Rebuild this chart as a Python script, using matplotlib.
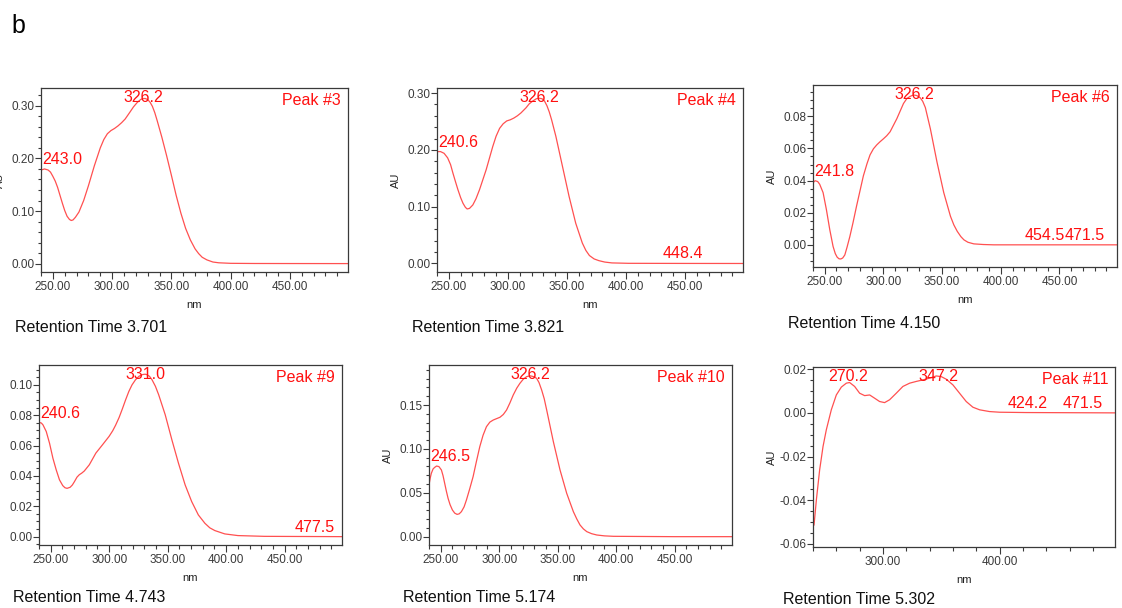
import numpy as np
import matplotlib
matplotlib.use("Agg")
import matplotlib.pyplot as plt
from matplotlib.ticker import MultipleLocator, FormatStrFormatter
from matplotlib.transforms import IdentityTransform

plt.rcParams['font.family'] = ['Liberation Sans', 'DejaVu Sans']

W, H = 1122, 608

# UV spectra (nm, AU)
p3_nm = [240, 243, 246, 248, 250, 252, 254, 256, 258, 260, 262, 264, 265.5, 267, 269, 272,
         276, 280, 285, 290, 293, 296, 299, 302, 305, 308, 311, 315, 318, 321, 324, 326, 328,
         330, 332, 334, 336, 338, 342, 346, 350, 354, 358, 362, 366, 370, 373, 376, 380, 385,
         390, 400, 420, 450, 499]
p3_au = [0.178, 0.180, 0.178, 0.174, 0.166, 0.157, 0.145, 0.130, 0.115, 0.101, 0.090, 0.084,
         0.082, 0.083, 0.088, 0.098, 0.120, 0.148, 0.186, 0.220, 0.236, 0.247, 0.253, 0.257,
         0.262, 0.268, 0.275, 0.288, 0.298, 0.306, 0.312, 0.314, 0.314, 0.312, 0.307, 0.299,
         0.287, 0.272, 0.240, 0.205, 0.168, 0.130, 0.096, 0.067, 0.045, 0.028, 0.019, 0.012,
         0.007, 0.003, 0.0015, 0.0005, 0.0002, 0.0001, 0.0]

p4_nm = [240, 243, 246, 249, 251.5, 253.5, 255.5, 257.7, 260, 262, 264, 265.5, 267.5, 270.3,
         273, 276, 281.6, 287.2, 290, 293, 296, 299, 302, 305, 308, 311, 315.3, 318, 321, 324,
         326.5, 329, 331, 333, 335, 337, 340.6, 346.2, 351.8, 357.4, 363, 366, 369, 373, 377,
         382, 388, 402, 450, 499]
p4_au = [0.197, 0.197, 0.194, 0.186, 0.174, 0.159, 0.145, 0.130, 0.116, 0.106, 0.099, 0.096,
         0.097, 0.103, 0.114, 0.130, 0.165, 0.206, 0.224, 0.238, 0.246, 0.251, 0.253, 0.256,
         0.260, 0.265, 0.274, 0.281, 0.286, 0.290, 0.291, 0.290, 0.286, 0.278, 0.267, 0.253,
         0.224, 0.171, 0.118, 0.071, 0.036, 0.023, 0.014, 0.008, 0.005, 0.0025, 0.001, 0.0003,
         0.0001, 0.0]

p6_nm = [240, 241.8, 244, 245.7, 248.6, 251.4, 254.3, 257.1, 259, 260.6, 262.2, 263.7, 265.3,
         267.1, 269, 271.4, 274, 277.1, 282.9, 286, 288.6, 291.5, 294.3, 297, 300, 302.8,
         305.7, 311.4, 317.1, 320, 322.9, 325, 326.5, 328.5, 331.4, 333.5, 335.7, 340, 345.7,
         351.4, 357.1, 360, 362.9, 366, 368.6, 372, 377, 385, 394, 450, 499]
p6_au = [0.0387, 0.0399, 0.0394, 0.0377, 0.0325, 0.022, 0.0094, -0.001, -0.0055, -0.0077,
         -0.0087, -0.0088, -0.0082, -0.0063, -0.0015, 0.0052, 0.0135, 0.0241, 0.0429, 0.0505,
         0.0560, 0.0598, 0.0622, 0.0641, 0.066, 0.0679, 0.0704, 0.0785, 0.088, 0.0911, 0.0925,
         0.0931, 0.0932, 0.0929, 0.0915, 0.0893, 0.0855, 0.0722, 0.0513, 0.0325, 0.0178,
         0.0124, 0.0084, 0.0051, 0.0031, 0.0016, 0.0006, 0.0002, 0.0, 0.0, 0.0]

p9_nm = [240, 242, 243.4, 246.2, 249, 251.9, 254.7, 257.5, 260.3, 262.2, 264, 266.6, 268.5,
         270.2, 272.5, 274.5, 276.5, 278.7, 283, 288.6, 294.2, 299.9, 303, 305.5, 308.5,
         311.2, 314, 316.8, 319.5, 322.5, 325.5, 328.1, 330, 331, 332.4, 334.5, 336.6, 339.5,
         342.3, 347.9, 353.6, 359.2, 364.9, 370.5, 376.2, 381.8, 386, 390.3, 398.8, 410,
         432.7, 499]
p9_au = [0.0752, 0.0748, 0.0736, 0.0692, 0.0615, 0.0516, 0.044, 0.0374, 0.0336, 0.0322,
         0.0318, 0.0325, 0.0340, 0.0361, 0.0392, 0.0408, 0.0418, 0.0432, 0.0473, 0.055,
         0.0604, 0.066, 0.0697, 0.0734, 0.0785, 0.0840, 0.0900, 0.0956, 0.0999, 0.1033,
         0.1056, 0.1066, 0.1069, 0.1069, 0.1066, 0.1055, 0.1033, 0.0990, 0.0934, 0.0802,
         0.0637, 0.0484, 0.0341, 0.0231, 0.0143, 0.0088, 0.0058, 0.004, 0.0018, 0.0007,
         0.0002, 0.0]

p10_nm = [240, 241, 242, 243.5, 244.9, 246.5, 248.5, 250.6, 252, 253.4, 254.8, 256.3, 258,
          260, 262, 264, 265.8, 267.7, 270, 272, 274.8, 277.7, 280.5, 283.4, 286.2, 289.1,
          292, 294.9, 297.8, 300.6, 303.5, 306.3, 309.2, 312, 315, 317.7, 320.5, 323.4,
          326.5, 329.5, 332, 334, 336.3, 338.5, 340.6, 346.3, 352, 357.7, 363.4, 366.3,
          369.1, 372, 374.9, 379, 383.4, 390, 397.7, 450, 499]
p10_au = [0.0589, 0.0665, 0.0722, 0.0772, 0.079, 0.0805, 0.0798, 0.076, 0.0695, 0.0608,
          0.0521, 0.0437, 0.0365, 0.0304, 0.0268, 0.0254, 0.0260, 0.0285, 0.0340, 0.0418,
          0.0545, 0.0684, 0.0855, 0.1025, 0.1155, 0.1253, 0.1305, 0.1329, 0.1345, 0.136,
          0.1392, 0.1443, 0.1525, 0.1614, 0.1692, 0.1747, 0.1793, 0.1823, 0.1833, 0.1823,
          0.1804, 0.1757, 0.1671, 0.1571, 0.1443, 0.1082, 0.076, 0.0494, 0.0285, 0.0202,
          0.0133, 0.0088, 0.0057, 0.0034, 0.0019, 0.0009, 0.0004, 0.0, 0.0]

p11_nm = [240.9, 242.9, 245.7, 248.6, 251.4, 255.7, 260, 264.3, 268.6, 271.4, 275.7, 280,
          284.3, 288.6, 292.9, 297.1, 301.4, 305.7, 311.4, 317.1, 322.9, 328.6, 334.3, 340,
          345.7, 350, 354.3, 360, 365.7, 371.4, 377.1, 382.9, 391.4, 400, 422.9, 499]
p11_au = [-0.0513, -0.0398, -0.0261, -0.0154, -0.0078, 0.0014, 0.0082, 0.0118, 0.0136,
          0.0139, 0.0121, 0.009, 0.0079, 0.0082, 0.0067, 0.0052, 0.0047, 0.006, 0.009, 0.0121,
          0.0136, 0.0144, 0.0151, 0.0159, 0.0169, 0.0166, 0.0154, 0.0128, 0.009, 0.0052,
          0.0026, 0.0014, 0.0006, 0.0003, 0.00015, 0.0]

spectra = [(p3_nm, p3_au), (p4_nm, p4_au), (p6_nm, p6_au),
           (p9_nm, p9_au), (p10_nm, p10_au), (p11_nm, p11_au)]
peak_names = ["Peak #3", "Peak #4", "Peak #6", "Peak #9", "Peak #10", "Peak #11"]
retention = ["3.701", "3.821", "4.150", "4.743", "5.174", "5.302"]
marks = [[243.0, 326.2],
         [240.6, 326.2, 448.4],
         [241.8, 326.2, 454.5, 471.5],
         [240.6, 331.0, 477.5],
         [246.5, 326.2],
         [270.2, 347.2, 424.2, 471.5]]

# panel boxes in pixels: left, top, right, bottom
boxes = [(41, 88, 348, 272), (437, 88, 743, 272), (813, 85, 1117, 267),
         (39, 365, 342, 545), (429, 365, 732, 545), (813, 367, 1115, 547)]
ylims = [(-0.016, 0.334), (-0.015, 0.309), (-0.0138, 0.0995),
         (-0.0055, 0.113), (-0.0095, 0.1956), (-0.0614, 0.021)]
# x major, x minor, y major, y minor
ticks = [(50, 10, 0.1, 0.02), (50, 10, 0.1, 0.02), (50, 10, 0.02, 0.005),
         (50, 10, 0.02, 0.005), (50, 10, 0.05, 0.01), (100, 20, 0.02, 0.005)]
rt_pos = [(15, 327), (412, 327), (788, 323), (13, 597), (403, 597), (783, 599)]

LINE = '#ff5050'
RED = '#ff1010'
DARK = '#3a3a3a'
MARK_FS = 11.5

fig = plt.figure(figsize=(W / 100, H / 100), dpi=100)
fig.text(11 / W, 1 - 33 / H, "b", fontsize=18, ha='left', va='baseline')

axes = []
for i, (nm, au) in enumerate(spectra):
    l, t, r, b = boxes[i]
    ax = fig.add_axes([l / W, 1 - b / H, (r - l) / W, (b - t) / H])
    ax.plot(nm, au, color=LINE, lw=0.9)
    ax.set_xlim(240, 499)
    ax.set_ylim(*ylims[i])
    xm, xn, ym, yn = ticks[i]
    ax.xaxis.set_major_locator(MultipleLocator(xm))
    ax.xaxis.set_minor_locator(MultipleLocator(xn))
    ax.yaxis.set_major_locator(MultipleLocator(ym))
    ax.yaxis.set_minor_locator(MultipleLocator(yn))
    ax.xaxis.set_major_formatter(FormatStrFormatter('%.2f'))
    ax.yaxis.set_major_formatter(FormatStrFormatter('%.2f'))
    ax.tick_params(axis='x', which='major', length=5, width=0.8, pad=1.5,
                   labelsize=8.5, colors=DARK)
    ax.tick_params(axis='x', which='minor', length=3, width=0.8, colors=DARK)
    ax.tick_params(axis='y', which='major', length=4.3, width=0.8, pad=0.5,
                   labelsize=8.5, colors=DARK)
    ax.tick_params(axis='y', which='minor', length=2.2, width=0.8, colors=DARK)
    for s in ax.spines.values():
        s.set_color(DARK)
        s.set_linewidth(0.9)
    w_px, h_px = r - l, b - t
    ax.set_xlabel("nm", fontsize=8, color='#222222')
    ax.xaxis.set_label_coords(0.5, -28 / h_px)
    ax.set_ylabel("AU", fontsize=8, color='#222222')
    ax.yaxis.set_label_coords(-36 / w_px, 0.5)
    ax.annotate(peak_names[i], xy=(1, 1), xycoords='axes fraction',
                xytext=(-7, -5), textcoords='offset pixels',
                ha='right', va='top', color=RED, fontsize=MARK_FS)
    x0, y0 = rt_pos[i]
    fig.text(x0 / W, 1 - y0 / H, "Retention Time " + retention[i],
             fontsize=11.5, ha='left', va='center', color='#111111')
    axes.append(ax)

renderer = fig.canvas.get_renderer()
cap = 0.716 * MARK_FS * fig.dpi / 72
for i, ax in enumerate(axes):
    nm, au = spectra[i]
    bb = ax.get_window_extent(renderer)
    placed = []
    for m in marks[i]:
        x, y = ax.transData.transform((m, np.interp(m, nm, au)))
        yb = y + 5
        if yb + cap > bb.y1 - 3:
            yb = bb.y1 - 3 - cap
        txt = ax.text(x, yb, f"{m:.1f}", transform=IdentityTransform(),
                      ha='left', va='baseline', color=RED, fontsize=MARK_FS)
        w = txt.get_window_extent(renderer).width
        xl = min(max(x - w / 2, bb.x0 + 1), bb.x1 - 7 - w)
        placed.append([txt, xl, yb, w])
    # push overlapping labels to the left
    for j in range(len(placed) - 2, -1, -1):
        if placed[j][1] + placed[j][3] > placed[j + 1][1] and abs(placed[j][2] - placed[j + 1][2]) < cap:
            placed[j][1] = placed[j + 1][1] - placed[j][3]
    for txt, xl, yb, w in placed:
        txt.set_position((xl, yb))

fig.savefig("out.png", dpi=100)
